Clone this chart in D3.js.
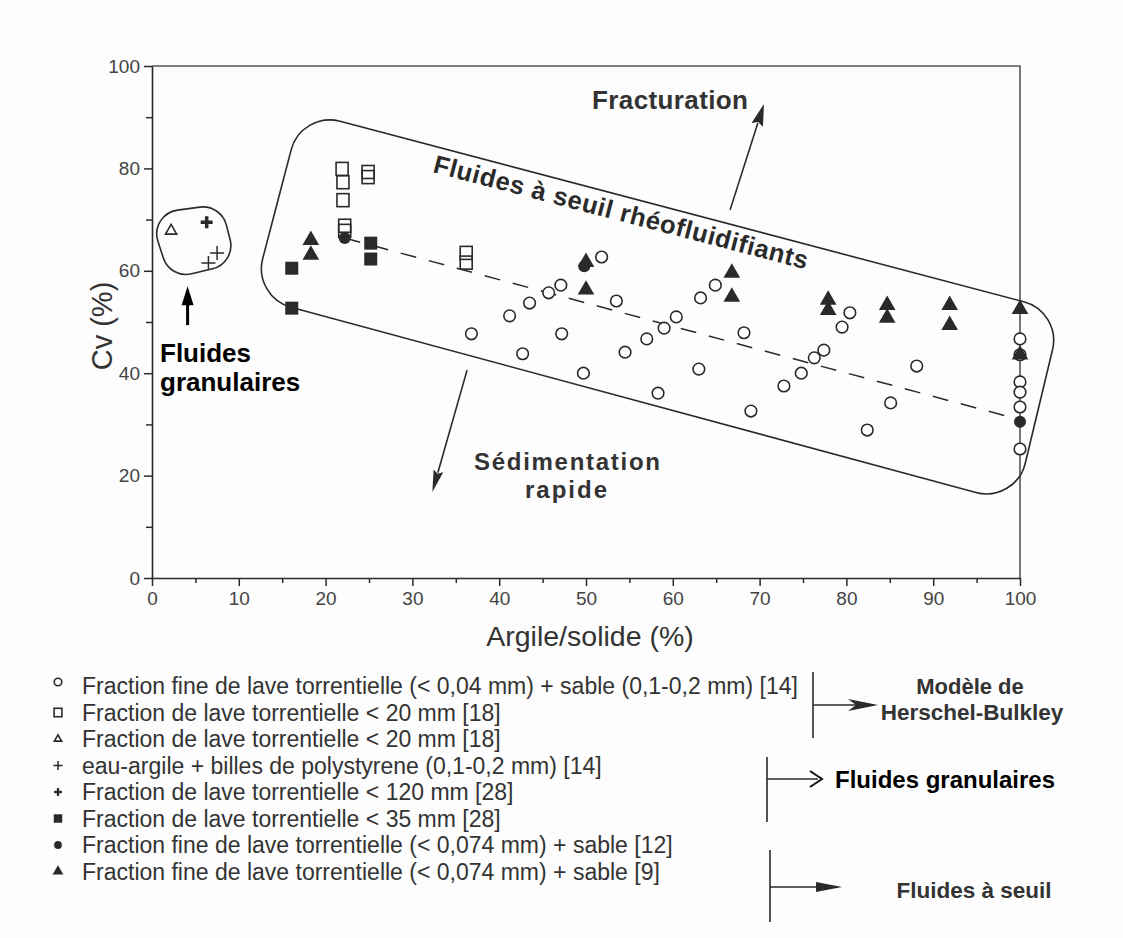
<!DOCTYPE html>
<html><head><meta charset="utf-8">
<script src="https://cdn.jsdelivr.net/npm/d3@7"></script>
<style>
html,body{margin:0;padding:0;background:#fff;}
svg{display:block;font-family:"Liberation Sans",Arial,Helvetica,sans-serif;}
</style></head>
<body>
<svg id="chart" width="1123" height="938"></svg>
<script>
// ---------- data (Argile/solide %, Cv %) ----------
const openCircles = [[36.8,47.7],[41.2,51.2],[42.7,43.8],[43.5,53.7],[45.7,55.7],[47.1,57.2],[47.2,47.7],[49.7,40.0],[51.8,62.7],[53.5,54.1],[54.5,44.1],[57.0,46.7],[58.3,36.1],[59.0,48.8],[60.4,51.0],[63.0,40.8],[63.2,54.7],[64.9,57.2],[68.2,47.9],[69.0,32.6],[72.8,37.5],[74.8,40.0],[76.3,43.0],[77.4,44.5],[79.5,49.0],[80.4,51.8],[82.4,28.9],[85.1,34.2],[88.1,41.4],[100,46.7],[100,43.6],[100,38.3],[100,36.3],[100,33.4],[100,25.2]];
const openSquares = [[21.9,79.9],[22.0,77.3],[22.0,73.8],[22.2,68.8],[22.2,67.8],[24.9,79.3],[24.9,78.3],[36.2,63.5],[36.2,61.6]];
const openTriangles = [[2.2,67.8]];
const thinPlus = [[7.5,63.5],[6.5,61.5]];
const boldPlus = [[6.3,69.5]];
const filledSquares = [[25.2,65.4],[25.2,62.3],[16.1,60.5],[16.1,52.7]];
const filledCircles = [[22.2,66.4],[49.8,60.9],[100,30.5]];
const filledTriangles = [[18.3,66.0],[18.3,63.1],[50.0,61.7],[50.0,56.3],[66.8,59.6],[66.8,54.9],[77.9,54.3],[77.9,52.3],[84.7,53.3],[84.7,50.8],[91.9,53.3],[91.9,49.4],[100,52.5],[100,43.6]];
const trendLine = [[22.2,66.4],[98.5,31.6]];
const envelopeMain = [[17.2,91.2],[104.8,52.0],[99.5,14.6],[11.6,54.9]];
const envelopeGranular = [[-0.35,71.1],[7.95,73.0],[9.7,61.5],[2.1,58.4]];
const arrowFracturation = [[66.6,71.9],[70.5,92.6]];
const arrowSedimentation = [[36.3,40.6],[32.3,16.8]];
const arrowGranular = [[4.1,49.4],[4.1,57.0]];
const xTicks = [0,10,20,30,40,50,60,70,80,90,100];
const yTicks = [0,20,40,60,80,100];
const legendLabels = [
  "Fraction fine de lave torrentielle (< 0,04 mm) + sable (0,1-0,2 mm) [14]",
  "Fraction de lave torrentielle < 20 mm [18]",
  "Fraction de lave torrentielle < 20 mm [18]",
  "eau-argile + billes de polystyrene (0,1-0,2 mm) [14]",
  "Fraction de lave torrentielle < 120 mm [28]",
  "Fraction de lave torrentielle < 35 mm [28]",
  "Fraction fine de lave torrentielle (< 0,074 mm) + sable [12]",
  "Fraction fine de lave torrentielle (< 0,074 mm) + sable [9]"
];
const legendSymbols = ["openCircle","openSquare","openTriangle","thinPlus","boldPlus","filledSquare","filledCircle","filledTriangle"];

// ---------- setup ----------
const svg = d3.select("#chart");
const ink = "#2a2a2a";
const x = d3.scaleLinear().domain([0,100]).range([152,1020]);
const y = d3.scaleLinear().domain([0,100]).range([578,66]);

svg.append("rect").attr("width",1123).attr("height",938).attr("fill","#fdfdfd");

// frame (top and right)
svg.append("path").attr("d",`M${x(0)},${y(100)}H${x(100)}V${y(0)}`).attr("fill","none").attr("stroke","#555").attr("stroke-width",1.6);

// axes
const xAxis = d3.axisBottom(x).tickValues(d3.range(0,101,5)).tickSize(0).tickFormat("");
const gx = svg.append("g").attr("transform",`translate(0,${y(0)})`).call(xAxis);
gx.select(".domain").attr("stroke",ink).attr("stroke-width",1.6);
gx.selectAll(".tick line").remove();
gx.selectAll(".tick").append("line").attr("y2",d=>d%10===0?8:5).attr("stroke",ink).attr("stroke-width",1.5);
const gxl = svg.append("g").attr("transform",`translate(0,${y(0)})`).call(d3.axisBottom(x).tickValues(xTicks).tickSize(0).tickPadding(14));
gxl.select(".domain").remove();
gxl.selectAll("text").attr("font-size",19).attr("fill","#444").attr("font-family","Liberation Sans, Arial, sans-serif");

const gy = svg.append("g").attr("transform",`translate(${x(0)},0)`).call(d3.axisLeft(y).tickValues(d3.range(0,101,10)).tickSize(0).tickFormat(""));
gy.select(".domain").attr("stroke",ink).attr("stroke-width",1.6);
gy.selectAll(".tick").append("line").attr("x2",d=>d%20===0?-8:-6).attr("stroke",ink).attr("stroke-width",1.5);
const gyl = svg.append("g").attr("transform",`translate(${x(0)},0)`).call(d3.axisLeft(y).tickValues(yTicks).tickSize(0).tickPadding(12));
gyl.select(".domain").remove();
gyl.selectAll("text").attr("font-size",19).attr("fill","#444").attr("font-family","Liberation Sans, Arial, sans-serif");

// axis titles
svg.append("text").attr("x",590).attr("y",646).attr("text-anchor","middle").attr("font-size",28.5).attr("fill","#333").text("Argile/solide (%)");
svg.append("text").attr("transform","translate(112,326) rotate(-90)").attr("text-anchor","middle").attr("font-size",29).attr("fill","#333").text("Cv (%)");

// ---------- envelopes ----------
function roundedPoly(pts,r){
  const p = d3.path(); const n = pts.length;
  const mid=(a,b)=>[(a[0]+b[0])/2,(a[1]+b[1])/2];
  const m0 = mid(pts[n-1],pts[0]); p.moveTo(m0[0],m0[1]);
  for(let i=0;i<n;i++){const c=pts[i], nx=pts[(i+1)%n], m=mid(c,nx); p.arcTo(c[0],c[1],m[0],m[1],r);}
  p.closePath(); return p.toString();
}
const toPx = d=>[x(d[0]),y(d[1])];
svg.append("path").attr("d",roundedPoly(envelopeMain.map(toPx),40)).attr("fill","none").attr("stroke",ink).attr("stroke-width",1.6);
svg.append("path").attr("d",roundedPoly(envelopeGranular.map(toPx),24)).attr("fill","none").attr("stroke",ink).attr("stroke-width",1.6);

// trend line
svg.append("path").attr("d",d3.line().x(d=>x(d[0])).y(d=>y(d[1]))(trendLine)).attr("fill","none").attr("stroke",ink).attr("stroke-width",1.5).attr("stroke-dasharray","16,13");

// ---------- arrows ----------
function arrow(data,{w=1.5,len=20,half=5,notch=0}={}){
  const [a,b]=data.map(toPx);
  const dx=b[0]-a[0], dy=b[1]-a[1], L=Math.hypot(dx,dy), ux=dx/L, uy=dy/L, px=-uy, py=ux;
  const base=[b[0]-ux*len,b[1]-uy*len];
  svg.append("line").attr("x1",a[0]).attr("y1",a[1]).attr("x2",base[0]+ux*2).attr("y2",base[1]+uy*2).attr("stroke",ink).attr("stroke-width",w);
  const nb=[base[0]+ux*notch,base[1]+uy*notch];
  svg.append("path").attr("d",`M${b[0]},${b[1]}L${base[0]+px*half},${base[1]+py*half}L${nb[0]},${nb[1]}L${base[0]-px*half},${base[1]-py*half}Z`).attr("fill",ink);
}
arrow(arrowFracturation,{w:1.6,len:22,half:6,notch:3});
arrow(arrowSedimentation,{w:1.6,len:22,half:5,notch:3});
// granular arrow (pasted, black)
(function(){
  const [a,b]=arrowGranular.map(toPx);
  svg.append("line").attr("x1",a[0]).attr("y1",a[1]).attr("x2",b[0]).attr("y2",b[1]+14).attr("stroke","#000").attr("stroke-width",3);
  svg.append("path").attr("d",`M${b[0]},${b[1]}L${b[0]-6},${b[1]+19}L${b[0]+6},${b[1]+19}Z`).attr("fill","#000");
})();

// ---------- markers ----------
const sym = {
  openCircle:(g,s)=>g.append("circle").attr("r",5.8*s).attr("fill","#fff").attr("stroke",ink).attr("stroke-width",1.6),
  openSquare:(g,s)=>g.append("rect").attr("x",-6*s).attr("y",-6.5*s).attr("width",12*s).attr("height",13*s).attr("fill","none").attr("stroke",ink).attr("stroke-width",1.6),
  openTriangle:(g,s)=>g.append("path").attr("d",d3.symbol(d3.symbolTriangle2,90*s*s)()).attr("fill","none").attr("stroke",ink).attr("stroke-width",1.6),
  thinPlus:(g,s)=>g.append("path").attr("d",`M${-7*s},0H${7*s}M0,${-7*s}V${7*s}`).attr("stroke",ink).attr("stroke-width",1.5),
  boldPlus:(g,s)=>g.append("path").attr("d",`M${-6*s},0H${6*s}M0,${-6*s}V${6*s}`).attr("stroke",ink).attr("stroke-width",3.5*s),
  filledSquare:(g,s)=>g.append("rect").attr("x",-6.5*s).attr("y",-6.5*s).attr("width",13*s).attr("height",13*s).attr("fill",ink),
  filledCircle:(g,s)=>g.append("circle").attr("r",6*s).attr("fill",ink),
  filledTriangle:(g,s)=>g.append("path").attr("d",d3.symbol(d3.symbolTriangle,120*s*s)()).attr("fill",ink)
};
function drawSeries(data,type){
  svg.append("g").selectAll("g").data(data).join("g")
    .attr("transform",d=>`translate(${x(d[0])},${y(d[1])})`)
    .each(function(){sym[type](d3.select(this),1);});
}
drawSeries(openSquares,"openSquare");
drawSeries(openCircles,"openCircle");
drawSeries(openTriangles,"openTriangle");
drawSeries(thinPlus,"thinPlus");
drawSeries(boldPlus,"boldPlus");
drawSeries(filledSquares,"filledSquare");
drawSeries(filledCircles,"filledCircle");
drawSeries(filledTriangles,"filledTriangle");

// ---------- annotations ----------
svg.append("text").attr("x",592).attr("y",109).attr("font-size",26).attr("font-weight","bold").attr("fill","#333").attr("textLength",156).attr("lengthAdjust","spacing").text("Fracturation");
svg.append("text").attr("transform","translate(432,172) rotate(14.6)").attr("font-size",25.5).attr("font-weight","bold").attr("fill","#2a2a2a").attr("textLength",386).attr("lengthAdjust","spacing").text("Fluides à seuil rhéofluidifiants");
svg.append("text").attr("x",474).attr("y",470).attr("font-size",24).attr("font-weight","bold").attr("fill","#333").attr("textLength",186).attr("lengthAdjust","spacing").text("Sédimentation");
svg.append("text").attr("x",525).attr("y",498).attr("font-size",24).attr("font-weight","bold").attr("fill","#333").attr("textLength",82).attr("lengthAdjust","spacing").text("rapide");
svg.append("text").attr("x",160).attr("y",362).attr("font-size",26).attr("font-weight","bold").attr("fill","#000").text("Fluides");
svg.append("text").attr("x",160).attr("y",391).attr("font-size",26).attr("font-weight","bold").attr("fill","#000").text("granulaires");

// ---------- legend ----------
const lg = svg.append("g");
legendLabels.forEach((t,i)=>{
  const yy = 694 + i*26.5;
  const g = lg.append("g").attr("transform",`translate(58,${yy-8 - (i===0?4:0)})`);
  sym[legendSymbols[i]](g,0.65);
  lg.append("text").attr("x",82).attr("y",yy).attr("font-size",23).attr("fill","#333").text(t);
});

// brackets on the right
function bracket(xv,y1,y2,yh,xtip,head){
  svg.append("line").attr("x1",xv).attr("x2",xv).attr("y1",y1).attr("y2",y2).attr("stroke",ink).attr("stroke-width",1.6);
  svg.append("line").attr("x1",xv).attr("x2",xtip-4).attr("y1",yh).attr("y2",yh).attr("stroke",ink).attr("stroke-width",1.6);
  if(head==="long") svg.append("path").attr("d",`M${xtip},${yh}L${xtip-30},${yh-6}L${xtip-22},${yh}L${xtip-30},${yh+6}Z`).attr("fill",ink);
  else if(head==="open") svg.append("path").attr("d",`M${xtip-12},${yh-8}L${xtip},${yh}L${xtip-12},${yh+8}`).attr("fill","none").attr("stroke","#111").attr("stroke-width",2);
  else svg.append("path").attr("d",`M${xtip},${yh}L${xtip-26},${yh-5}L${xtip-26},${yh+5}Z`).attr("fill",ink);
}
bracket(813,672,738,705,878,"long");
bracket(767,757,822,779,822,"open");
bracket(770,850,922,887,842,"filled");
svg.append("text").attr("x",970).attr("y",694).attr("text-anchor","middle").attr("font-size",22).attr("font-weight","bold").attr("fill","#333").text("Modèle de");
svg.append("text").attr("x",972).attr("y",720).attr("text-anchor","middle").attr("font-size",22.5).attr("font-weight","bold").attr("fill","#333").text("Herschel-Bulkley");
svg.append("text").attr("x",835).attr("y",788).attr("font-size",24).attr("font-weight","bold").attr("fill","#000").text("Fluides granulaires");
svg.append("text").attr("x",974).attr("y",898).attr("text-anchor","middle").attr("font-size",22.5).attr("font-weight","bold").attr("fill","#333").text("Fluides à seuil");
</script>
</body></html>
